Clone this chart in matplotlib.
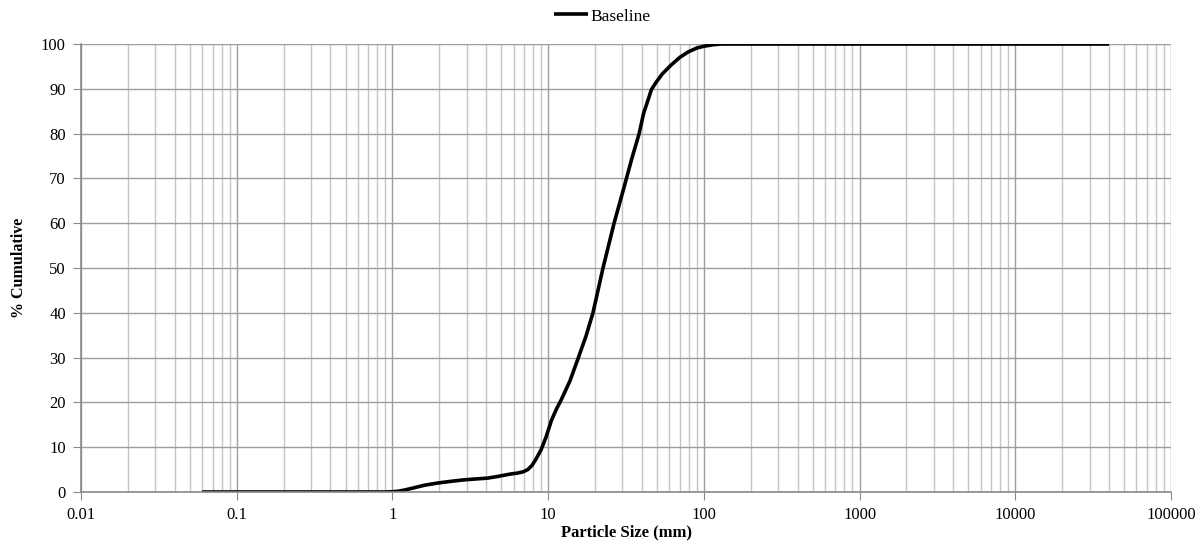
import numpy as np
import matplotlib.pyplot as plt
from matplotlib.ticker import LogLocator, FixedLocator, NullFormatter

plt.rcParams['font.family'] = ['Liberation Serif', 'DejaVu Serif']

# sieve sizes (mm) and cumulative passing (%)
size = [0.06, 0.1, 0.3, 0.6, 0.9, 1.0, 1.1, 1.2, 1.36, 1.6, 1.95, 2.4, 2.86, 3.4,
        4.08, 4.8, 5.7, 6.3, 6.9, 7.4, 7.9, 8.4, 9.0, 9.7, 10.5, 11.3, 12.1, 13.8,
        15.6, 17.5, 19.4, 22.5, 26.5, 30.7, 34.5, 38.4, 41.0, 43.8, 46.0, 49.0,
        54.0, 61.6, 70.0, 79.0, 90.0, 100.0, 115.0, 130.0, 200.0, 1000.0,
        10000.0, 40000.0]
passing = [0.0, 0.0, 0.0, 0.0, 0.0, 0.05, 0.2, 0.45, 0.9, 1.5, 2.0, 2.4, 2.7, 2.9,
           3.1, 3.5, 4.0, 4.2, 4.5, 5.0, 6.0, 7.5, 9.4, 12.3, 16.0, 18.5, 20.5, 24.8,
           29.9, 34.8, 40.0, 50.0, 60.0, 68.0, 74.5, 80.0, 84.5, 87.5, 89.8, 91.3,
           93.3, 95.3, 97.0, 98.2, 99.1, 99.5, 99.85, 100.0, 100.0, 100.0, 100.0,
           100.0]

fig = plt.figure(figsize=(12.04, 5.52), dpi=100)
ax = fig.add_axes([0.0673, 0.1087, 0.9053, 0.8116])

ax.plot(size, passing, color='black', lw=2.6, label='Baseline', solid_capstyle='butt',
        solid_joinstyle='round')

ax.set_xscale('log')
ax.set_xlim(0.01, 100000)
ax.set_ylim(0, 100)
ax.xaxis.set_major_locator(FixedLocator([10.0 ** k for k in range(-2, 6)]))
ax.xaxis.set_minor_locator(LogLocator(base=10, subs=np.arange(2, 10), numticks=20))
ax.xaxis.set_minor_formatter(NullFormatter())
ax.set_xticklabels(['0.01', '0.1', '1', '10', '100', '1000', '10000', '100000'])
ax.set_yticks(range(0, 101, 10))

ax.grid(which='major', axis='both', color='#9e9e9e', lw=1.0)
ax.grid(which='minor', axis='x', color='#c4c4c4', lw=1.0)
ax.set_axisbelow(True)

for s in ['top', 'right']:
    ax.spines[s].set_visible(False)
for s in ['left', 'bottom']:
    ax.spines[s].set_color('#8a8a8a')
    ax.spines[s].set_linewidth(1.2)

ax.tick_params(which='major', length=6, color='#8a8a8a', labelsize=12, pad=5)
ax.tick_params(which='minor', length=0)

ax.set_xlabel('Particle Size (mm)', fontweight='bold', fontsize=12, labelpad=1)
ax.set_ylabel('% Cumulative', fontweight='bold', fontsize=11.5, labelpad=10)

fig.legend(*ax.get_legend_handles_labels(), loc='lower center',
           bbox_to_anchor=(0.5, 0.943), frameon=False, fontsize=12.5,
           handlelength=2.0, handletextpad=0.1, borderaxespad=0.0)

fig.savefig('out.png', dpi=100)
